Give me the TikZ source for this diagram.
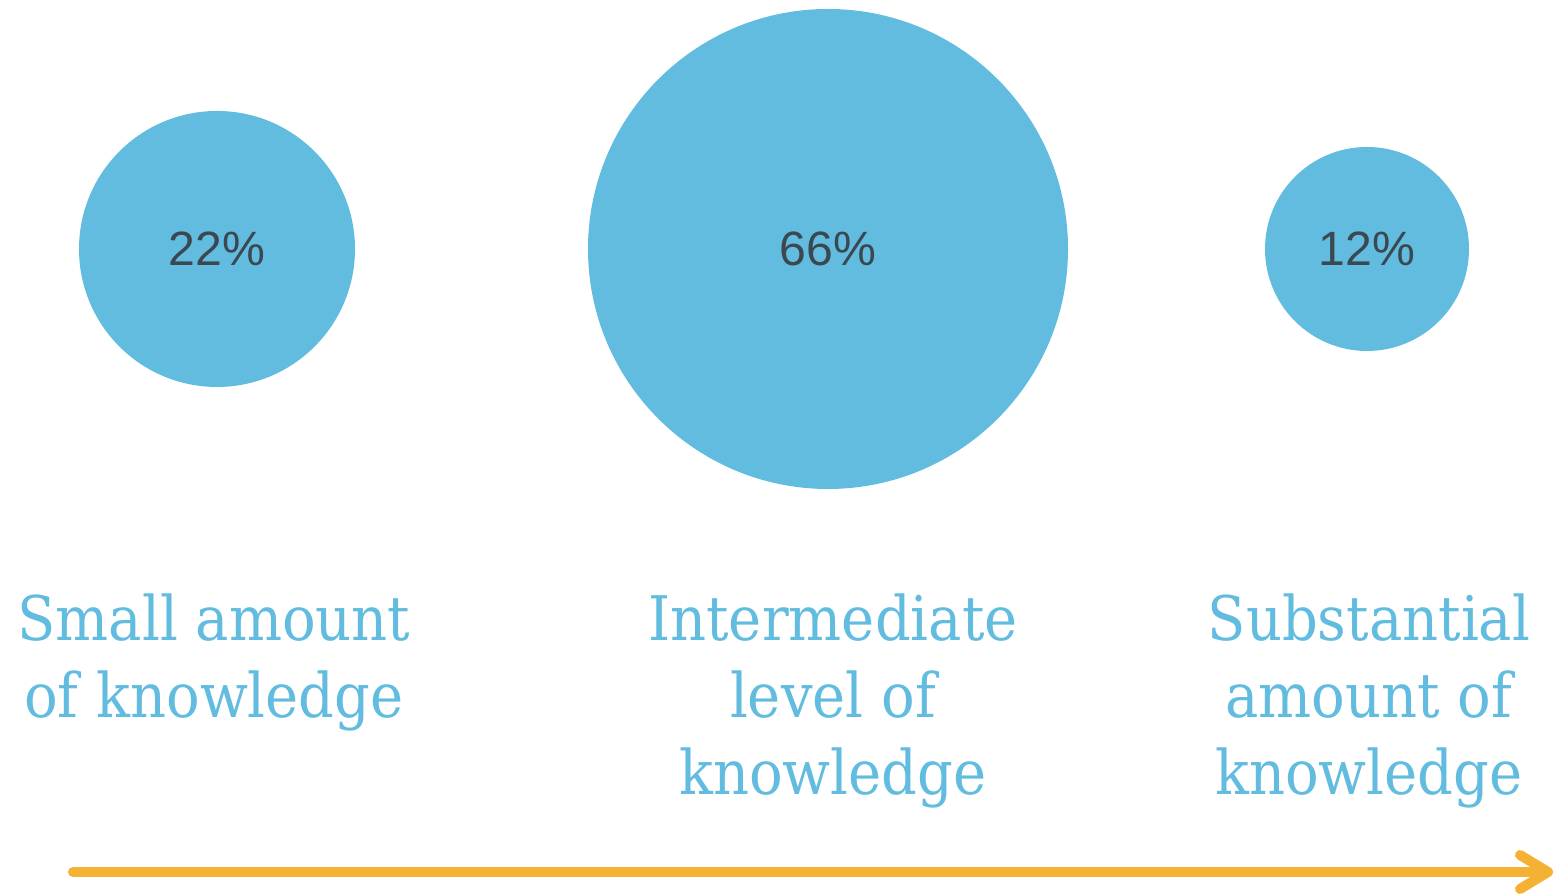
\documentclass[tikz,border=0pt]{standalone}
\usepackage{fontspec}
\setmainfont{DejaVu Serif}[FakeStretch=0.91]
\newfontfamily\pctfont{Liberation Sans}
\usetikzlibrary{arrows.meta}

\definecolor{bubbleblue}{HTML}{62BCDF}
\definecolor{pctgray}{HTML}{3B4751}
\definecolor{axisorange}{HTML}{F3B233}

\tikzset{
  bubble/.style={circle, fill=bubbleblue, inner sep=0pt},
  pct/.style={font=\pctfont\fontsize{13.7}{16}\selectfont, text=pctgray},
  levellabel/.style={anchor=north, align=center, inner sep=0pt, text=bubbleblue,
    font=\fontsize{17.5}{21.9}\selectfont}
}

\begin{document}
\begin{tikzpicture}
  \useasboundingbox (0,0) rectangle (15.56,8.96);

  % Draw the bubbles
  \node[bubble, minimum size=2.76cm] (small) at (2.17,6.47) {};
  \node[bubble, minimum size=4.80cm] (inter) at (8.28,6.47) {};
  \node[bubble, minimum size=2.04cm] (subst) at (13.67,6.47) {};

  % Add percentages
  \node[pct] (smallpct) at (small) {22\%};
  \node[pct] (interpct) at (inter) {66\%};
  \node[pct] (substpct) at (subst) {12\%};

  % Add labels
  \node[levellabel] (smalllab) at (2.14,3.03) {Small amount\\of knowledge};
  \node[levellabel] (interlab) at (8.33,3.03) {Intermediate\\level of\\knowledge};
  \node[levellabel] (substlab) at (13.69,3.03) {Substantial\\amount of\\knowledge};

  % Draw the axis
  \coordinate (axisstart) at (0.73,0.24);
  \coordinate (axisend) at (15.53,0.24);
  \draw[axisorange, line width=1mm, line cap=round,
    -{Straight Barb[round, length=2.8mm, width=3.4mm]}] (axisstart) -- (axisend);
\end{tikzpicture}
\end{document}
